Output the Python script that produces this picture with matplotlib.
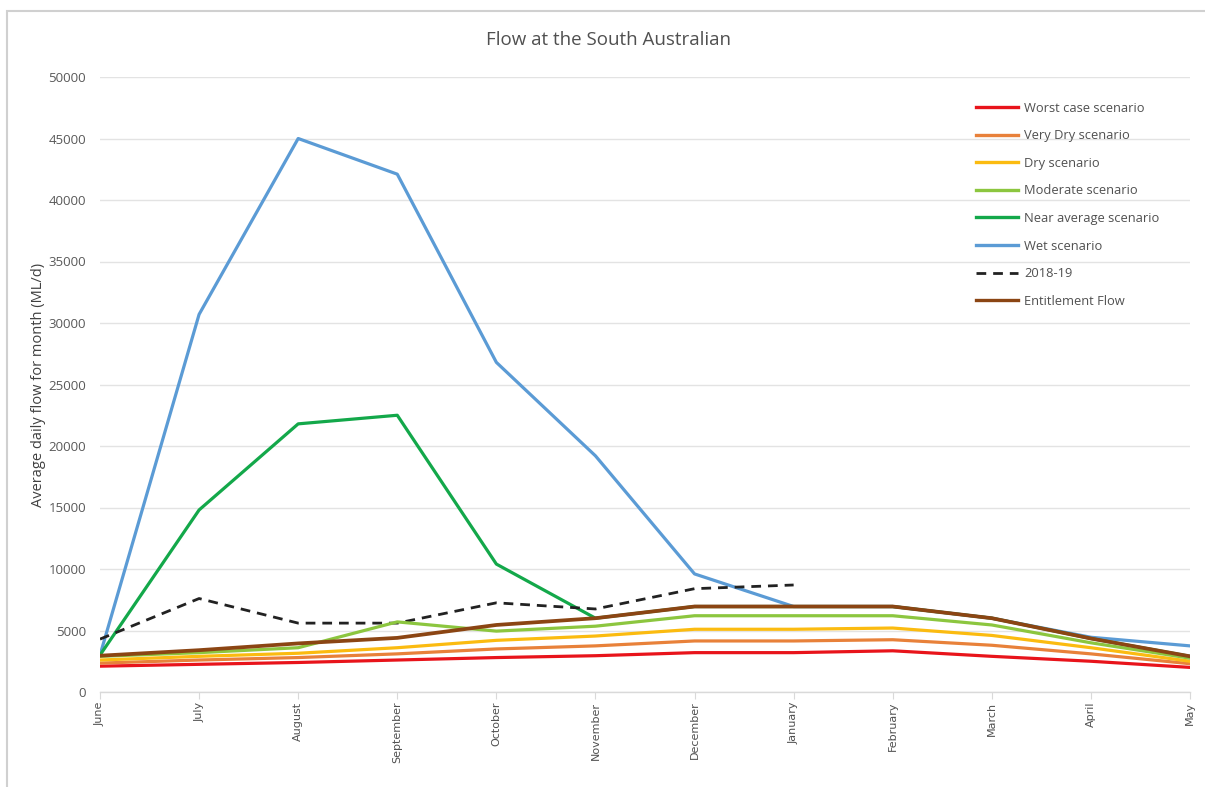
import matplotlib
matplotlib.use("Agg")
import matplotlib.pyplot as plt
from matplotlib.lines import Line2D
from matplotlib.patches import Rectangle

months = ["June", "July", "August", "September", "October", "November",
          "December", "January", "February", "March", "April", "May"]

worst_case = [2100, 2250, 2400, 2600, 2800, 2950, 3200, 3200, 3350, 2900, 2500, 2000]
very_dry = [2350, 2600, 2800, 3100, 3500, 3750, 4150, 4150, 4250, 3800, 3100, 2300]
dry = [2600, 2900, 3150, 3600, 4200, 4550, 5100, 5100, 5200, 4600, 3600, 2500]
moderate = [2900, 3200, 3600, 5700, 4950, 5350, 6200, 6200, 6200, 5450, 4000, 2750]
near_average = [3000, 14800, 21800, 22500, 10400, 6000, 6950, 6950, 6950, 6000, 4350, 2900]
wet = [3000, 30700, 45000, 42100, 26800, 19200, 9600, 6950, 6950, 6000, 4450, 3750]
season_2018_19 = [4300, 7600, 5600, 5600, 7250, 6750, 8400, 8700]
entitlement = [2950, 3400, 3950, 4400, 5450, 6000, 6950, 6950, 6950, 6000, 4350, 2900]

series = [
    ("Worst case scenario", worst_case, "#e8141b", "-"),
    ("Very Dry scenario", very_dry, "#e8813a", "-"),
    ("Dry scenario", dry, "#fbbb10", "-"),
    ("Moderate scenario", moderate, "#8cc63f", "-"),
    ("Near average scenario", near_average, "#13a84a", "-"),
    ("Wet scenario", wet, "#5b9bd5", "-"),
    ("2018-19", season_2018_19, "#222222", (0, (3.5, 2.5))),
    ("Entitlement Flow", entitlement, "#8b4513", "-"),
]

# draw order: wet and near average underneath, entitlement on top
draw_order = [5, 4, 6, 0, 1, 2, 3, 7]

fig = plt.figure(figsize=(12.05, 7.87), dpi=100)
fig.patches.append(Rectangle((7 / 1205, -0.1), 1.2, 1 - 11 / 787 + 0.1,
                             transform=fig.transFigure, fill=False,
                             edgecolor="#d0d0d0", linewidth=1.5))

ax = fig.add_axes([100 / 1205, 1 - 692 / 787, 1090 / 1205, 615 / 787])
x = list(range(len(months)))

for i in draw_order:
    name, vals, color, ls = series[i]
    lw = 2.0 if name == "2018-19" else 2.3
    if name == "Entitlement Flow":
        lw = 2.7
    ax.plot(x[:len(vals)], vals, color=color, linestyle=ls, linewidth=lw,
            solid_joinstyle="round", zorder=3)

ax.set_xlim(0, 11)
ax.set_ylim(0, 50000)
ax.set_yticks(range(0, 50001, 5000))
ax.set_xticks(x)
ax.set_xticklabels(months, rotation=90, fontsize=8, color="#505050",
                   family="DejaVu Sans")
for lab in ax.get_yticklabels():
    lab.set_fontfamily("Open Sans")
ax.tick_params(axis="y", length=0, labelsize=9.5, labelcolor="#595959", pad=10)
ax.tick_params(axis="x", length=5, color="#d9d9d9", pad=2)
ax.grid(axis="y", color="#e3e3e3", linewidth=1.0, zorder=0)
ax.set_axisbelow(True)
for side in ["top", "right", "left"]:
    ax.spines[side].set_visible(False)
ax.spines["bottom"].set_color("#d9d9d9")
ax.spines["bottom"].set_linewidth(1.0)

ax.set_ylabel("Average daily flow for month (ML/d)", fontsize=10.5,
              color="#404040", family="Open Sans", labelpad=2)
fig.text(609 / 1205, 1 - 40 / 787, "Flow at the South Australian",
         ha="center", va="center", fontsize=13.5, color="#505050",
         family="Open Sans")

legend_handles = []
for name, vals, color, ls in series:
    lw = 2.0 if name == "2018-19" else 2.4
    legend_handles.append(Line2D([0], [0], color=color, linestyle=ls, linewidth=lw))
ax.legend(legend_handles, [s[0] for s in series], loc="upper left",
          bbox_to_anchor=(964 / 1205, 1 - 90 / 787),
          bbox_transform=fig.transFigure, frameon=False,
          labelspacing=1.13, handlelength=3.3,
          handletextpad=0.45, labelcolor="#505050",
          prop={"family": "Open Sans", "size": 9.3})

fig.savefig("out.png", dpi=100, facecolor="white")
